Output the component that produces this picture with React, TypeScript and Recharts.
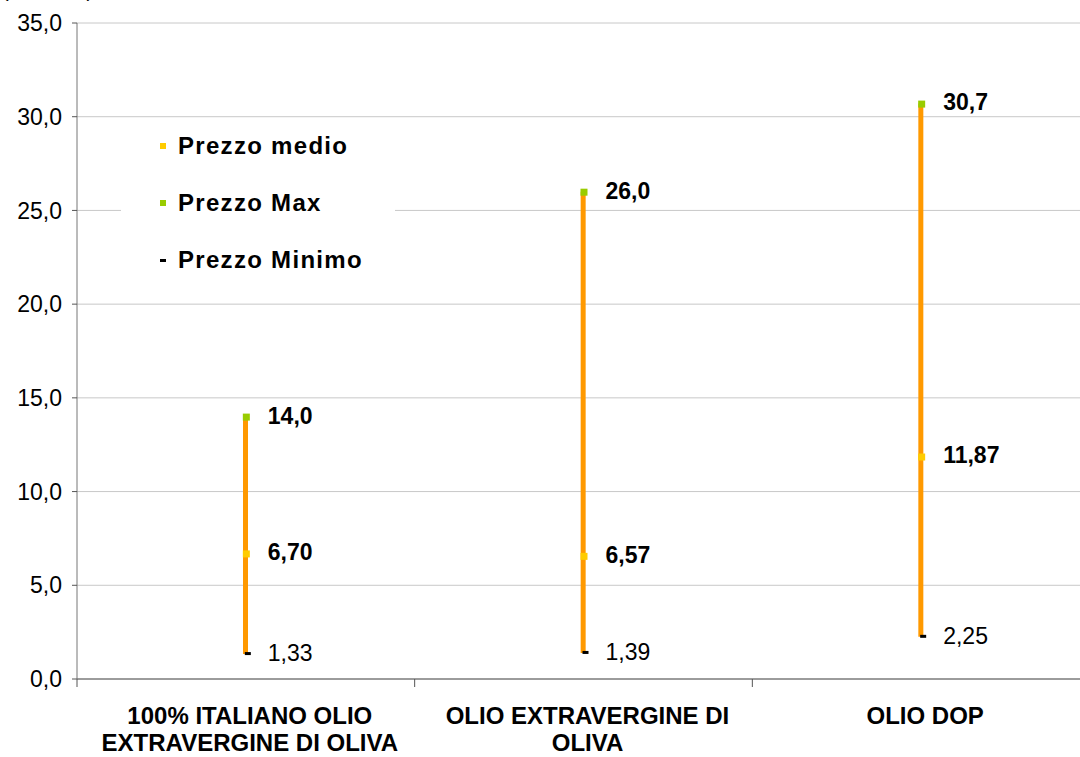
import React from 'react';
import { ComposedChart, Bar, Scatter, XAxis, YAxis, CartesianGrid, Legend } from 'recharts';

const categories = [
  ['100% ITALIANO OLIO', 'EXTRAVERGINE DI OLIVA'],
  ['OLIO EXTRAVERGINE DI', 'OLIVA'],
  ['OLIO DOP'],
];
const prezzoMax = [14.0, 26.0, 30.7];
const prezzoMedio = [6.7, 6.57, 11.87];
const prezzoMinimo = [1.33, 1.39, 2.25];
const yTicks = [0, 5, 10, 15, 20, 25, 30, 35];

const data = categories.map((c, i) => ({
  name: c.join(' '),
  lines: c,
  max: prezzoMax[i],
  medio: prezzoMedio[i],
  min: prezzoMinimo[i],
  range: [prezzoMinimo[i], prezzoMax[i]],
}));

const FONT = 'Arial, "Liberation Sans", sans-serif';
const fmt = (v: number, d: number) => v.toFixed(d).replace('.', ',');

const makeShape = (key: 'max' | 'medio' | 'min', color: string, digits: number, bold: boolean) => (props: any) => {
  const { cx, cy, payload } = props;
  const isMin = key === 'min';
  return (
    <g>
      {isMin ? (
        <rect x={cx - 1} y={cy - 2} width={6} height={3} fill={color} />
      ) : (
        <rect x={cx - 3} y={cy - 3} width={7} height={7} fill={color} />
      )}
      <text
        x={cx + 22}
        y={cy}
        dy="0.3em"
        fontFamily={FONT}
        fontSize={23}
        fontWeight={bold ? 'bold' : 'normal'}
        fill="#000"
      >
        {fmt(payload[key], digits)}
      </text>
    </g>
  );
};

const XTick = (props: any) => {
  const { x, y, payload, index } = props;
  const half = payload && payload.offset ? payload.offset : 168.8;
  const lines: string[] = data[index] ? data[index].lines : [];
  return (
    <g>
      <line x1={x - half} y1={y} x2={x - half} y2={y + 8} stroke="#555" />
      {index === data.length - 1 && <line x1={x + half} y1={y} x2={x + half} y2={y + 8} stroke="#555" />}
      {lines.map((l, i) => (
        <text
          key={i}
          x={x + 4}
          y={y + 45 + i * 27}
          textAnchor="middle"
          fontFamily={FONT}
          fontSize={24}
          fontWeight="bold"
          fill="#000"
        >
          {l}
        </text>
      ))}
    </g>
  );
};

const legendItems = [
  { label: 'Prezzo medio', color: '#FFCC00', type: 'square' },
  { label: 'Prezzo Max', color: '#99CC00', type: 'square' },
  { label: 'Prezzo Minimo', color: '#000000', type: 'dash' },
];

const LegendContent = () => (
  <div style={{ width: 274, height: 178, background: '#fff', position: 'relative', fontFamily: FONT }}>
    {legendItems.map((it, i) => (
      <div key={i} style={{ position: 'absolute', left: 0, top: 10 + i * 57, height: 28, display: 'flex', alignItems: 'center' }}>
        <div
          style={{
            marginLeft: 39,
            width: 6,
            height: it.type === 'square' ? 6 : 3,
            background: it.color,
          }}
        />
        <span style={{ marginLeft: 12, fontSize: 24, letterSpacing: 1.3, fontWeight: 'bold', color: '#000', whiteSpace: 'nowrap' }}>{it.label}</span>
      </div>
    ))}
  </div>
);

export default function App() {
  return (
    <div style={{ position: 'absolute', left: 0, top: 0, width: 1080, height: 757, overflow: 'hidden', background: '#fff' }}>
      <div style={{ position: 'absolute', left: 2, top: -21, fontFamily: FONT, fontSize: 20, color: '#000', whiteSpace: 'nowrap' }}>
        (euro/litro)
      </div>
      <ComposedChart
        width={1100}
        height={757}
        data={data}
        margin={{ top: 23, right: 10, bottom: 0, left: 0 }}
      >
        <CartesianGrid vertical={false} stroke="#c8c8c8" />
        <XAxis
          dataKey="name"
          type="category"
          height={78}
          tickLine={false}
          tickSize={0}
          tickMargin={0}
          axisLine={{ stroke: '#555' }}
          tick={<XTick />}
          interval={0}
        />
        <YAxis
          domain={[0, 35]}
          ticks={yTicks}
          width={77}
          tickSize={5}
          tickMargin={10}
          axisLine={{ stroke: '#777' }}
          tickLine={{ stroke: '#555' }}
          tick={{ fontFamily: FONT, fontSize: 23, fill: '#000' }}
          tickFormatter={(v: number) => fmt(v, 1)}
          interval={0}
        />
        <Legend
          layout="horizontal"
          verticalAlign="middle"
          align="center"
          content={<LegendContent />}
          wrapperStyle={{ position: 'absolute', left: 121, top: 122, width: 274, height: 178 }}
        />
        <Bar dataKey="range" fill="#FF9900" barSize={5} isAnimationActive={false} />
        <Scatter dataKey="medio" shape={makeShape('medio', '#FFCC00', 2, true)} isAnimationActive={false} />
        <Scatter dataKey="max" shape={makeShape('max', '#99CC00', 1, true)} isAnimationActive={false} />
        <Scatter dataKey="min" shape={makeShape('min', '#000000', 2, false)} isAnimationActive={false} />
      </ComposedChart>
    </div>
  );
}
